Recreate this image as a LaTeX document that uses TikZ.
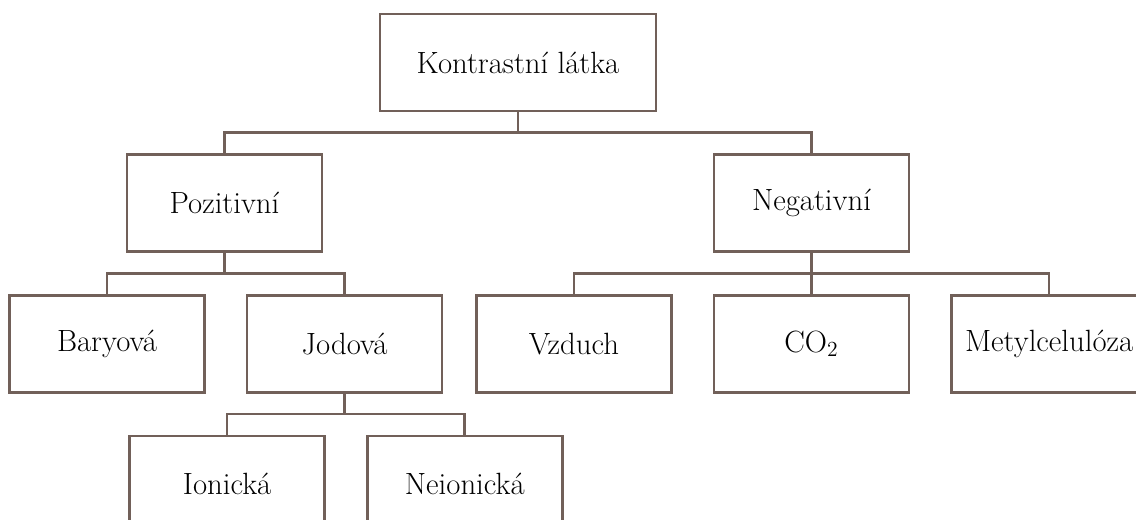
\documentclass[tikz,border=0pt]{standalone}
\usepackage{tikz}
\usetikzlibrary{positioning}
\definecolor{linebrown}{RGB}{113,96,89}

\begin{document}
\begin{tikzpicture}[
  % Base style for boxes
  basebox/.style={draw=linebrown, line width=1.5pt, fill=white, minimum height=1.94cm, inner sep=2pt, font=\fontsize{17.5}{20}\selectfont},
  % Styles inheriting from basebox
  rootbox/.style={basebox, minimum width=5.52cm},
  catbox/.style={basebox, minimum width=3.9cm},
  % Connector style
  branch/.style={draw=linebrown, line width=1.5pt}
]

  % Page frame
  \useasboundingbox (0,0) rectangle (22.72,-10.4);

  % Root
  \node[rootbox] (kontrast) at (10.36,-1.25) {Kontrastní látka};

  % Second level
  \node[catbox, below=0.82cm of kontrast, xshift=-5.87cm] (pozitiv) {Pozitivní};
  \node[catbox, below=0.82cm of kontrast, xshift=5.87cm] (negativ) {Negativní};

  % Positive agents
  \node[catbox, below=0.82cm of pozitiv, xshift=-2.35cm] (baryova) {Baryová};
  \node[catbox, right=0.8cm of baryova] (jodova) {Jodová};

  % Negative agents
  \node[catbox, below=0.82cm of negativ] (co2) {CO\textsubscript{2}};
  \node[catbox, left=0.8cm of co2] (vzduch) {Vzduch};
  \node[catbox, right=0.8cm of co2] (metyl) {Metylcelulóza};

  % Iodine agents
  \node[catbox, below=0.82cm of jodova, xshift=-2.35cm] (ionicka) {Ionická};
  \node[catbox, right=0.8cm of ionicka] (neionicka) {Neionická};

  % Tree branches
  \draw[branch] (kontrast.south) -- ++(0,-0.41) -| (pozitiv.north);
  \draw[branch] (kontrast.south) -- ++(0,-0.41) -| (negativ.north);
  \draw[branch] (pozitiv.south) -- ++(0,-0.41) -| (baryova.north);
  \draw[branch] (pozitiv.south) -- ++(0,-0.41) -| (jodova.north);
  \draw[branch] (negativ.south) -- ++(0,-0.41) -| (vzduch.north);
  \draw[branch] (negativ.south) -- (co2.north);
  \draw[branch] (negativ.south) -- ++(0,-0.41) -| (metyl.north);
  \draw[branch] (jodova.south) -- ++(0,-0.41) -| (ionicka.north);
  \draw[branch] (jodova.south) -- ++(0,-0.41) -| (neionicka.north);

\end{tikzpicture}
\end{document}
